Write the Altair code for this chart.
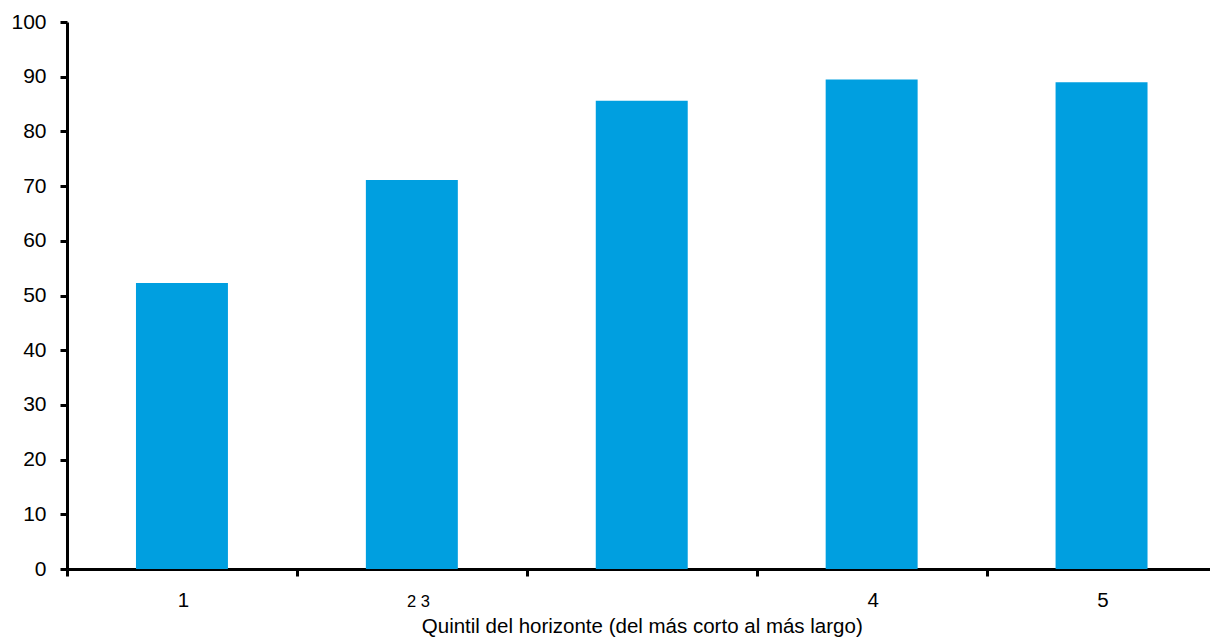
import altair as alt
import pandas as pd

# Share of cases by horizon quintile (shortest to longest)
quintiles = ["1", "2", "3", "4", "5"]
tick_labels = ["1", "2 3", "", "4", "5"]
values = [52.3, 71.1, 85.6, 89.5, 89.0]

df = pd.DataFrame({"quintil": quintiles, "valor": values})

label_map = ", ".join(f"'{k}': '{v}'" for k, v in zip(quintiles, tick_labels))
label_expr = "{" + label_map + "}[datum.value]"

FONT = "Liberation Sans"
BLUE = "#009FE0"

X_RANGE = 1149.5             # full band range in px (last band runs past the view edge)
HALF_STEP = X_RANGE / 5 / 2  # ticks sit between categories

chart = (
    alt.Chart(df)
    .mark_bar(color=BLUE)
    .encode(
        x=alt.X(
            "quintil:N",
            sort=quintiles,
            scale=alt.Scale(range=[0, X_RANGE], paddingInner=0.6, paddingOuter=0.3),
            axis=alt.Axis(
                title="Quintil del horizonte (del más corto al más largo)",
                titleFont=FONT,
                titleFontSize=20.5,
                titleFontWeight="normal",
                titleColor="#000000",
                titlePadding=6,
                labelExpr=label_expr,
                labelFont=FONT,
                labelFontSize={"condition": {"test": "datum.value == '2'", "value": 16.5}, "value": 20.5},
                labelOffset={"condition": {"test": "datum.value == '2'", "value": HALF_STEP + 6}, "value": HALF_STEP + 1},
                labelColor="#000000",
                labelAngle=0,
                labelBaseline="alphabetic",
                labelPadding=30,
                tickOffset=-HALF_STEP,
                tickSize=7,
                tickWidth=3,
                tickColor="#000000",
                domainColor="#000000",
                domainWidth=3,
                grid=False,
            ),
        ),
        y=alt.Y(
            "valor:Q",
            scale=alt.Scale(domain=[0, 100], nice=False),
            axis=alt.Axis(
                title=None,
                values=list(range(0, 101, 10)),
                labelFont=FONT,
                labelFontSize=21,
                labelColor="#000000",
                labelPadding=14,
                tickSize=7,
                tickWidth=3,
                tickColor="#000000",
                domainColor="#000000",
                domainWidth=3,
                grid=False,
            ),
        ),
    )
    .properties(
        width=1143,
        height=547,
        autosize=alt.AutoSizeParams(type="none"),
        padding={"left": 67, "top": 22, "right": 0, "bottom": 70},
    )
    .configure(background="#ffffff")
    .configure_view(stroke="transparent", strokeOpacity=0, fill="#ffffff")
)

chart.save("out.html", embed_options={"renderer": "svg", "actions": False})
